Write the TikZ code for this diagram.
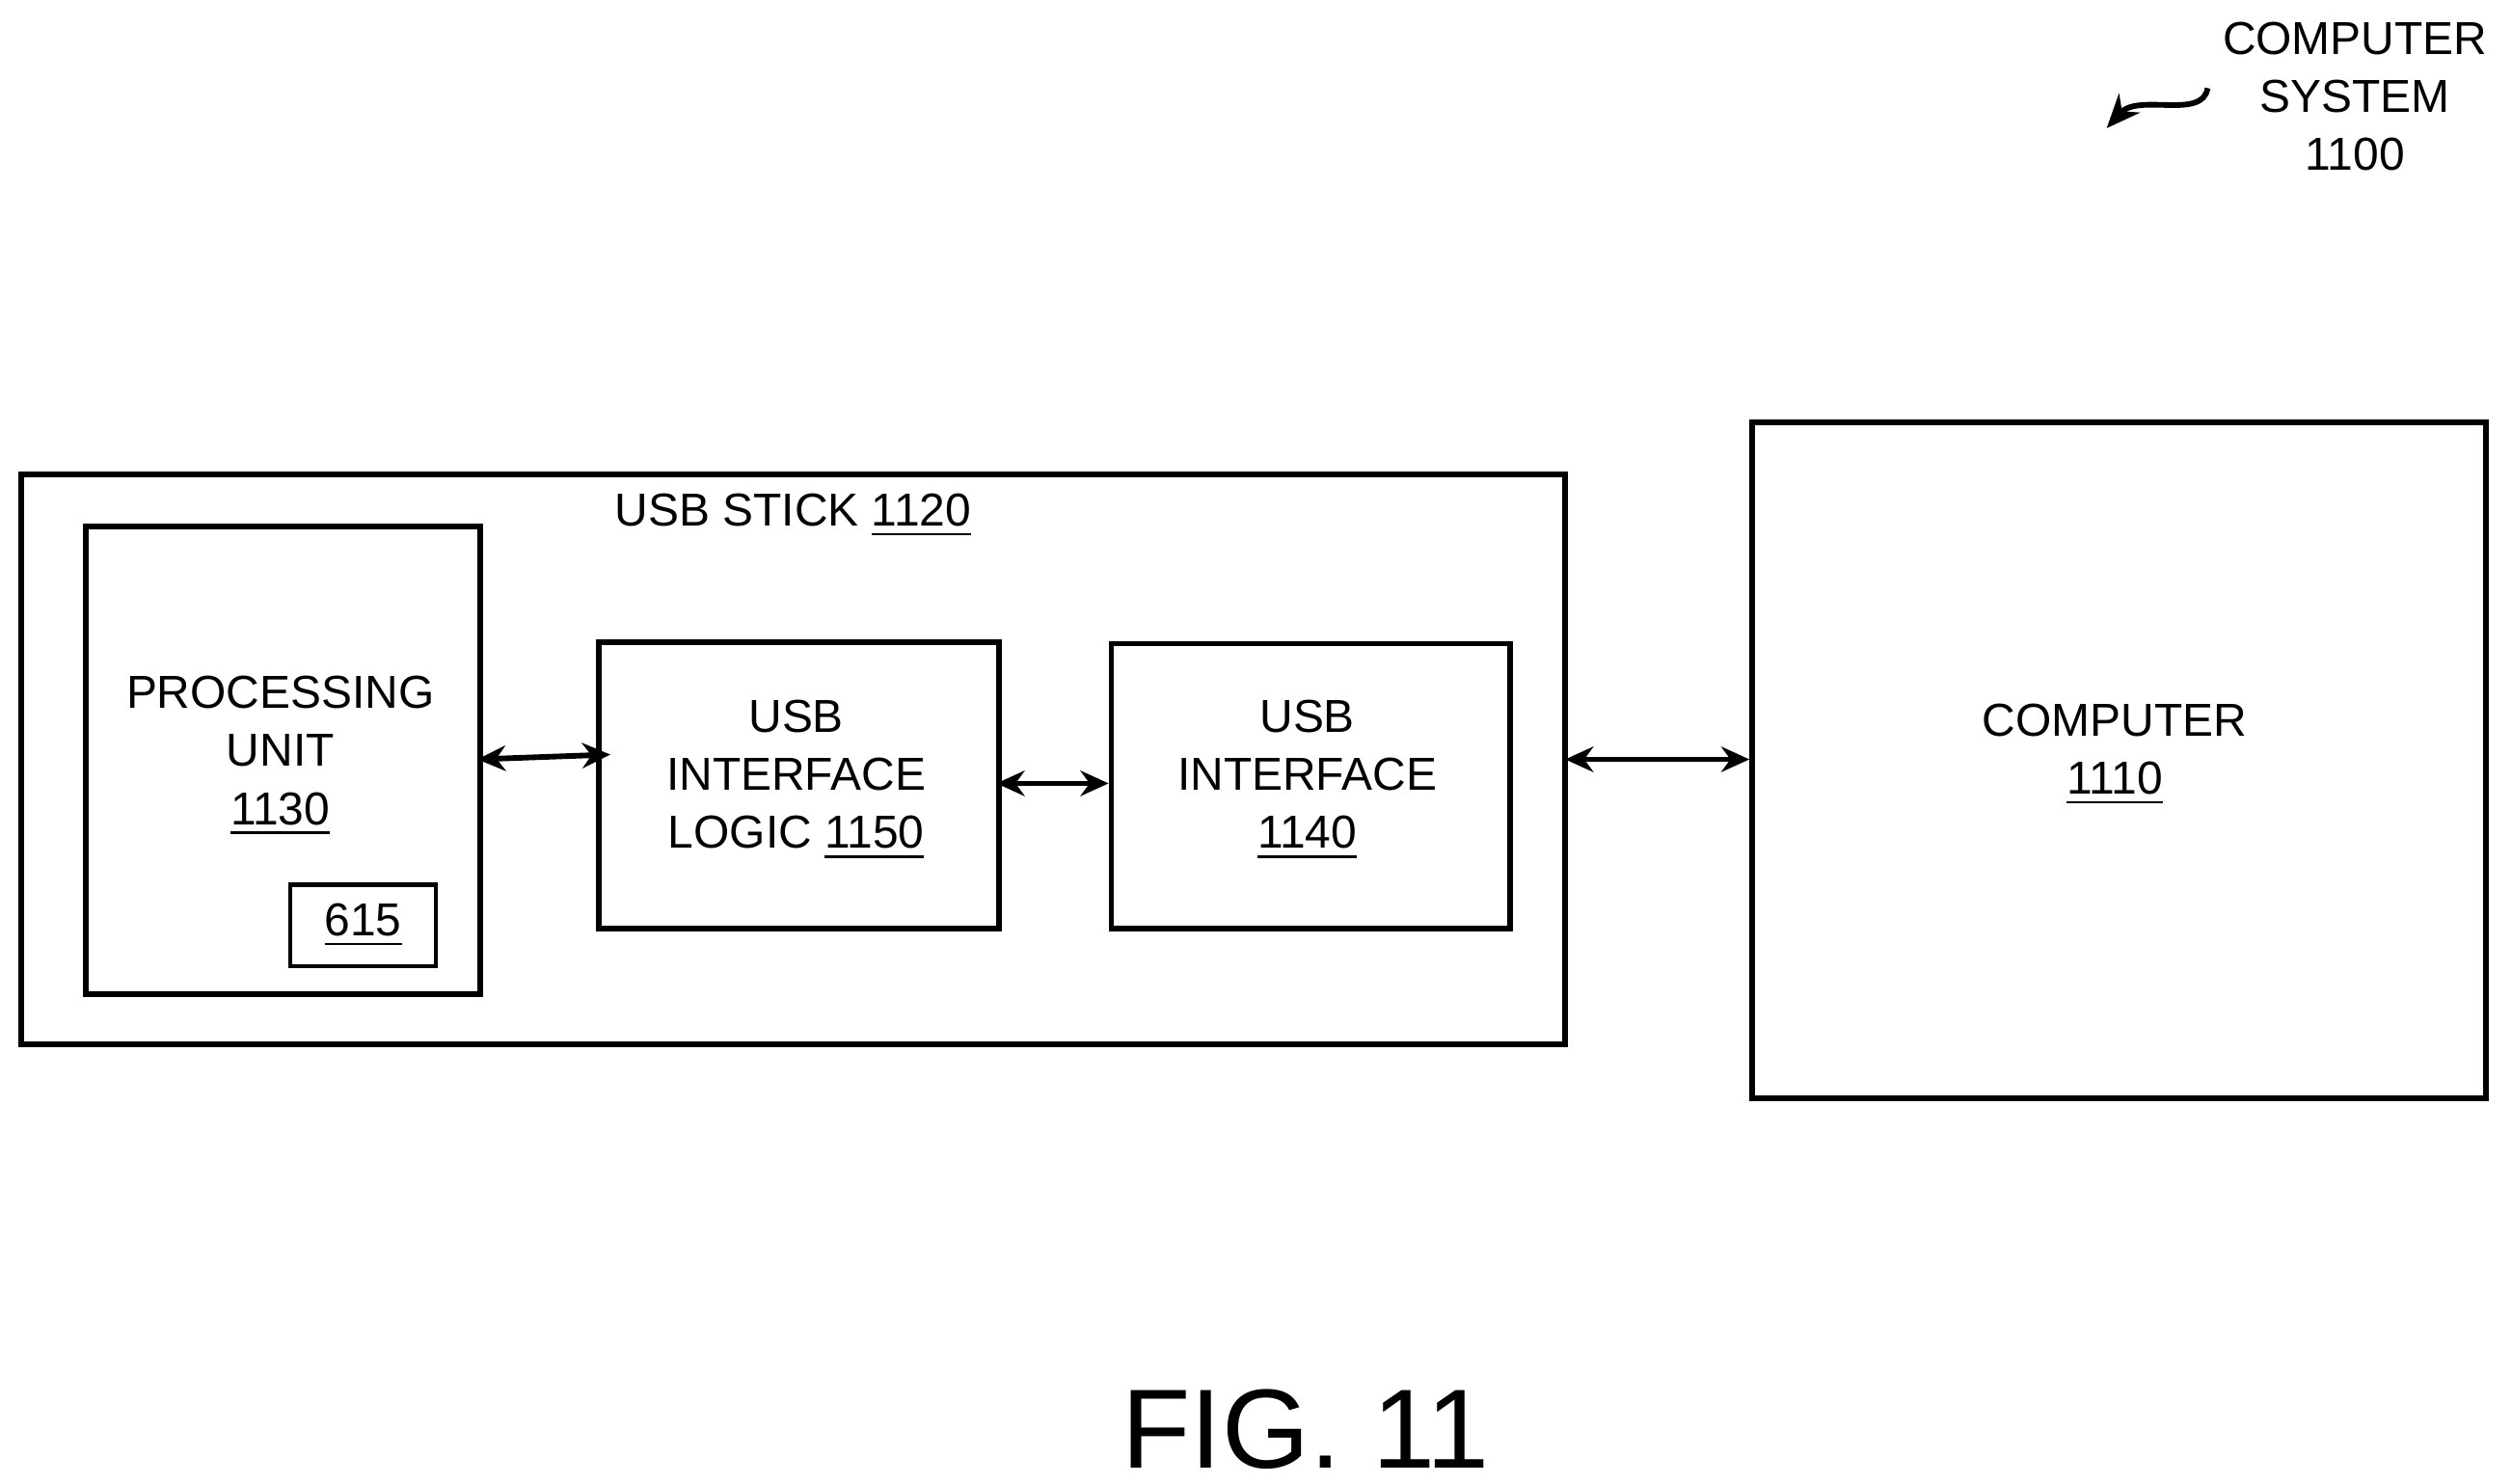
\documentclass[tikz,border=0pt]{standalone}
\usepackage{fontspec}
\setmainfont{Liberation Sans}
\usetikzlibrary{arrows.meta}
\begin{document}
\begin{tikzpicture}[x=0.01cm,y=-0.01cm,
  box/.style={draw,line width=1pt},
  lbl/.style={font=\fontsize{8.2}{10.3}\selectfont,align=center},
  arr/.style={line width=1pt,{Stealth[length=5pt,width=4.5pt]}-{Stealth[length=5pt,width=4.5pt]}}]
\useasboundingbox (0,0) rectangle (1568,926);
\draw[box] (13,296) rectangle (977,652);
\node[box,minimum width=246*0.01cm,minimum height=292*0.01cm,anchor=north west] (pu) at (52,327) {};
\node[box,line width=0.7pt,minimum width=91*0.01cm,minimum height=47*0.01cm,anchor=north west,lbl] (b615) at (180,551) {\underline{615}};
\node[box,minimum width=250*0.01cm,minimum height=179*0.01cm,anchor=north west] (logic) at (372,399) {};
\node[box,minimum width=249*0.01cm,minimum height=178*0.01cm,anchor=north west] (iface) at (692,400) {};
\node[box,minimum width=458*0.01cm,minimum height=422*0.01cm,anchor=north west] (comp) at (1092,262) {};
\node[lbl] (t1) at (495,322) {USB STICK \underline{1120}};
\node[lbl] (t2) at (175,472) {PROCESSING\\UNIT\\\underline{1130}};
\node[lbl] (t3) at (497,487) {USB\\INTERFACE\\LOGIC \underline{1150}};
\node[lbl] (t4) at (816,487) {USB\\INTERFACE\\\underline{1140}};
\node[lbl] (t5) at (1320,471) {COMPUTER\\\underline{1110}};
\node[lbl] (t6) at (1470,60) {COMPUTER\\SYSTEM\\1100};
\node[font=\fontsize{20}{24}\selectfont] (fig) at (815,892) {FIG. 11};
\coordinate (pa) at (298,474); \coordinate (pb) at (381,471);
\draw[arr] (pa) -- (pb);
\coordinate (la) at (622,489); \coordinate (lb) at (692,489);
\draw[arr] (la) -- (lb);
\coordinate (ca) at (977,474); \coordinate (cb) at (1092,474);
\draw[arr] (ca) -- (cb);
\coordinate (s1) at (1378,55); \coordinate (s2) at (1315,80);
\draw[line width=1pt,-{Stealth[length=6pt,width=5pt]}] (s1) .. controls (1375,75) and (1335,58) .. (s2);
\end{tikzpicture}
\end{document}
